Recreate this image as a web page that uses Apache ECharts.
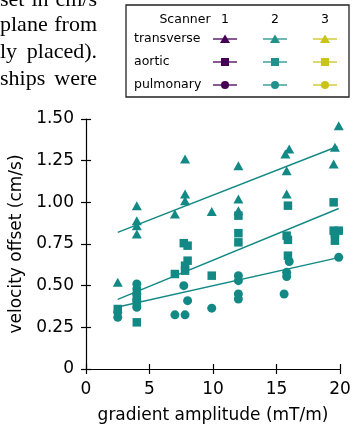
<!DOCTYPE html>
<html><head><meta charset="utf-8">
<script src="https://cdn.jsdelivr.net/npm/echarts@6/dist/echarts.min.js"></script>
<style>html,body{margin:0;padding:0;background:#fff;overflow:hidden}#c{width:357px;height:429px}</style>
</head><body><div id="c"></div>
<script>
// ---- data ----
const transverse = [
  [2.5,0.52],
  [4,0.98],[4,0.89],[4,0.86],[4,0.81],
  [7,0.93],
  [7.8,1.26],[7.8,1.05],[7.8,1.01],
  [9.9,0.945],
  [12,1.22],[12,1.02],[12,0.95],
  [15.7,1.29],[16,1.32],[15.8,1.19],[15.8,1.05],
  [19.9,1.46],[19.6,1.33],[19.5,1.23]
];
const aortic = [
  [2.5,0.36],
  [4,0.28],[4,0.44],[4,0.40],
  [7,0.57],
  [7.7,0.755],[8,0.74],[8,0.65],[7.8,0.62],[7.8,0.59],
  [9.9,0.56],
  [12,0.92],[12,0.815],[12,0.76],
  [15.9,0.98],[15.8,0.80],[15.9,0.775],[15.9,0.68],
  [19.5,1.00],[19.5,0.83],[19.9,0.83],[19.6,0.77]
];
const pulmonary = [
  [2.5,0.31],[2.5,0.34],
  [4,0.51],[4,0.48],[4,0.45],[4,0.41],[4,0.37],
  [7,0.325],[7.8,0.325],[8,0.41],[7.7,0.50],
  [9.9,0.365],
  [12,0.56],[12,0.53],[12,0.45],[12,0.42],
  [16,0.645],[15.8,0.58],[15.8,0.555],[15.6,0.45],
  [19.6,0.815],[19.6,0.80],[19.9,0.67]
];
const transverseFit = [[2.5,0.82],[19.8,1.335]];
const aorticFit = [[2.5,0.418],[19.9,0.963]];
const pulmonaryFit = [[2.5,0.372],[19.8,0.667]];
const xTicks = ['0','5','10','15','20'];
const yTicks = ['0','0.25','0.50','0.75','1.00','1.25','1.50'];
const scannerLabels = ['1','2','3'];
const regionLabels = ['transverse','aortic','pulmonary'];
const paperLines = [
  ['set','in','cm/s'],
  ['plane','from'],
  ['ly','placed).'],
  ['ships','were']
];

// ---- styling ----
const FONT = 'DejaVu Sans';
const TEAL = '#128985';
const scannerColors = ['#440154','#21918c','#c9c31a'];
const BLACK = '#000';

const chart = echarts.init(document.getElementById('c'), null, {renderer:'canvas'});

function xAx(extra){
  return Object.assign({
    type:'value', min:0, max:20, interval:5,
    axisLine:{show:true,lineStyle:{color:BLACK,width:1.2}},
    axisTick:{show:true,length:5,lineStyle:{color:BLACK,width:1.2}},
    axisLabel:{margin:12,fontFamily:FONT,fontSize:17,color:BLACK,
      formatter:(v)=>xTicks[Math.round(v/5)]},
    splitLine:{show:false}
  }, extra);
}
function yAx(extra){
  return Object.assign({
    type:'value', min:0, max:1.5, interval:0.25,
    axisLine:{show:true,lineStyle:{color:BLACK,width:1.2}},
    axisTick:{show:true,length:5,lineStyle:{color:BLACK,width:1.2}},
    axisLabel:{margin:12,fontFamily:FONT,fontSize:17,color:BLACK,
      formatter:(v)=>yTicks[Math.round(v/0.25)]},
    splitLine:{show:false}
  }, extra);
}

// legend graphic
const lg = [];
lg.push({type:'rect',shape:{x:126,y:5,width:223,height:92},style:{fill:'#fff',stroke:'#222',lineWidth:1.3}});
lg.push({type:'text',x:185,y:20,style:{text:'Scanner',font:'12.5px "DejaVu Sans"',fill:'#000',textAlign:'center',textVerticalAlign:'middle'}});
const colX = [225,275,325];
const rowY = [39,62,85];
scannerLabels.forEach((s,i)=>lg.push({type:'text',x:colX[i],y:20,style:{text:s,font:'12.5px "DejaVu Sans"',fill:'#000',textAlign:'center',textVerticalAlign:'middle'}}));
regionLabels.forEach((r,j)=>{
  lg.push({type:'text',x:134,y:rowY[j],style:{text:r,font:'12.5px "DejaVu Sans"',fill:'#000',textAlign:'left',textVerticalAlign:'middle'}});
  colX.forEach((cx,i)=>{
    const c = scannerColors[i], cy = rowY[j];
    lg.push({type:'line',shape:{x1:cx-12,y1:cy,x2:cx+12,y2:cy},style:{stroke:c,lineWidth:1.3}});
    if(j===0) lg.push({type:'polygon',shape:{points:[[cx,cy-4.5],[cx+5,cy+4],[cx-5,cy+4]]},style:{fill:c}});
    if(j===1) lg.push({type:'rect',shape:{x:cx-4,y:cy-4,width:8,height:8},style:{fill:c}});
    if(j===2) lg.push({type:'circle',shape:{cx:cx,cy:cy,r:4},style:{fill:c}});
  });
});
// paper text fragments: justified between x=0 and x=97
const baselines = [11,36,63,90];
const PFONT = '22px "Liberation Serif"';
const cv = document.createElement('canvas').getContext('2d');
cv.font = PFONT;
paperLines.forEach((ln,k)=>{
  const widths = ln.map(w=>cv.measureText(w).width);
  const total = widths.reduce((a,b)=>a+b,0);
  const gap = (97-total)/(ln.length-1);
  let x = 0;
  ln.forEach((w,i)=>{
    lg.push({type:'text',x:x,y:baselines[k],style:{text:w,font:PFONT,fill:'#000',textAlign:'left',textVerticalAlign:'bottom'}});
    x += widths[i]+gap;
  });
});

const option = {
  animation:false,
  grid:{left:86,top:119,width:254,height:253,containLabel:false},
  xAxis:[
    xAx({name:'gradient amplitude (mT/m)',nameLocation:'middle',nameGap:38,
      nameTextStyle:{fontFamily:FONT,fontSize:17,color:BLACK}}),
    xAx({position:'bottom',axisLine:{show:false},axisLabel:{show:false},axisTick:{show:true,inside:true,length:5,lineStyle:{color:BLACK,width:1.2}}})
  ],
  yAxis:[
    yAx({name:'velocity offset (cm/s)',nameLocation:'middle',nameGap:52,
      nameTextStyle:{fontFamily:FONT,fontSize:17,color:BLACK}}),
    yAx({position:'left',axisLine:{show:false},axisLabel:{show:false},axisTick:{show:true,inside:true,length:5,lineStyle:{color:BLACK,width:1.2}}})
  ],
  graphic:lg,
  series:[
    {type:'scatter',data:transverse,symbol:'triangle',symbolSize:[10,9],itemStyle:{color:TEAL,opacity:1},z:3},
    {type:'scatter',data:aortic,symbol:'rect',symbolSize:8.5,itemStyle:{color:TEAL,opacity:1},z:3},
    {type:'scatter',data:pulmonary,symbol:'circle',symbolSize:9,itemStyle:{color:TEAL,opacity:1},z:3},
    {type:'line',data:transverseFit,showSymbol:false,symbol:'none',lineStyle:{color:TEAL,width:1.4},z:4},
    {type:'line',data:aorticFit,showSymbol:false,symbol:'none',lineStyle:{color:TEAL,width:1.4},z:4},
    {type:'line',data:pulmonaryFit,showSymbol:false,symbol:'none',lineStyle:{color:TEAL,width:1.4},z:4}
  ]
};
chart.setOption(option);
</script></body></html>
